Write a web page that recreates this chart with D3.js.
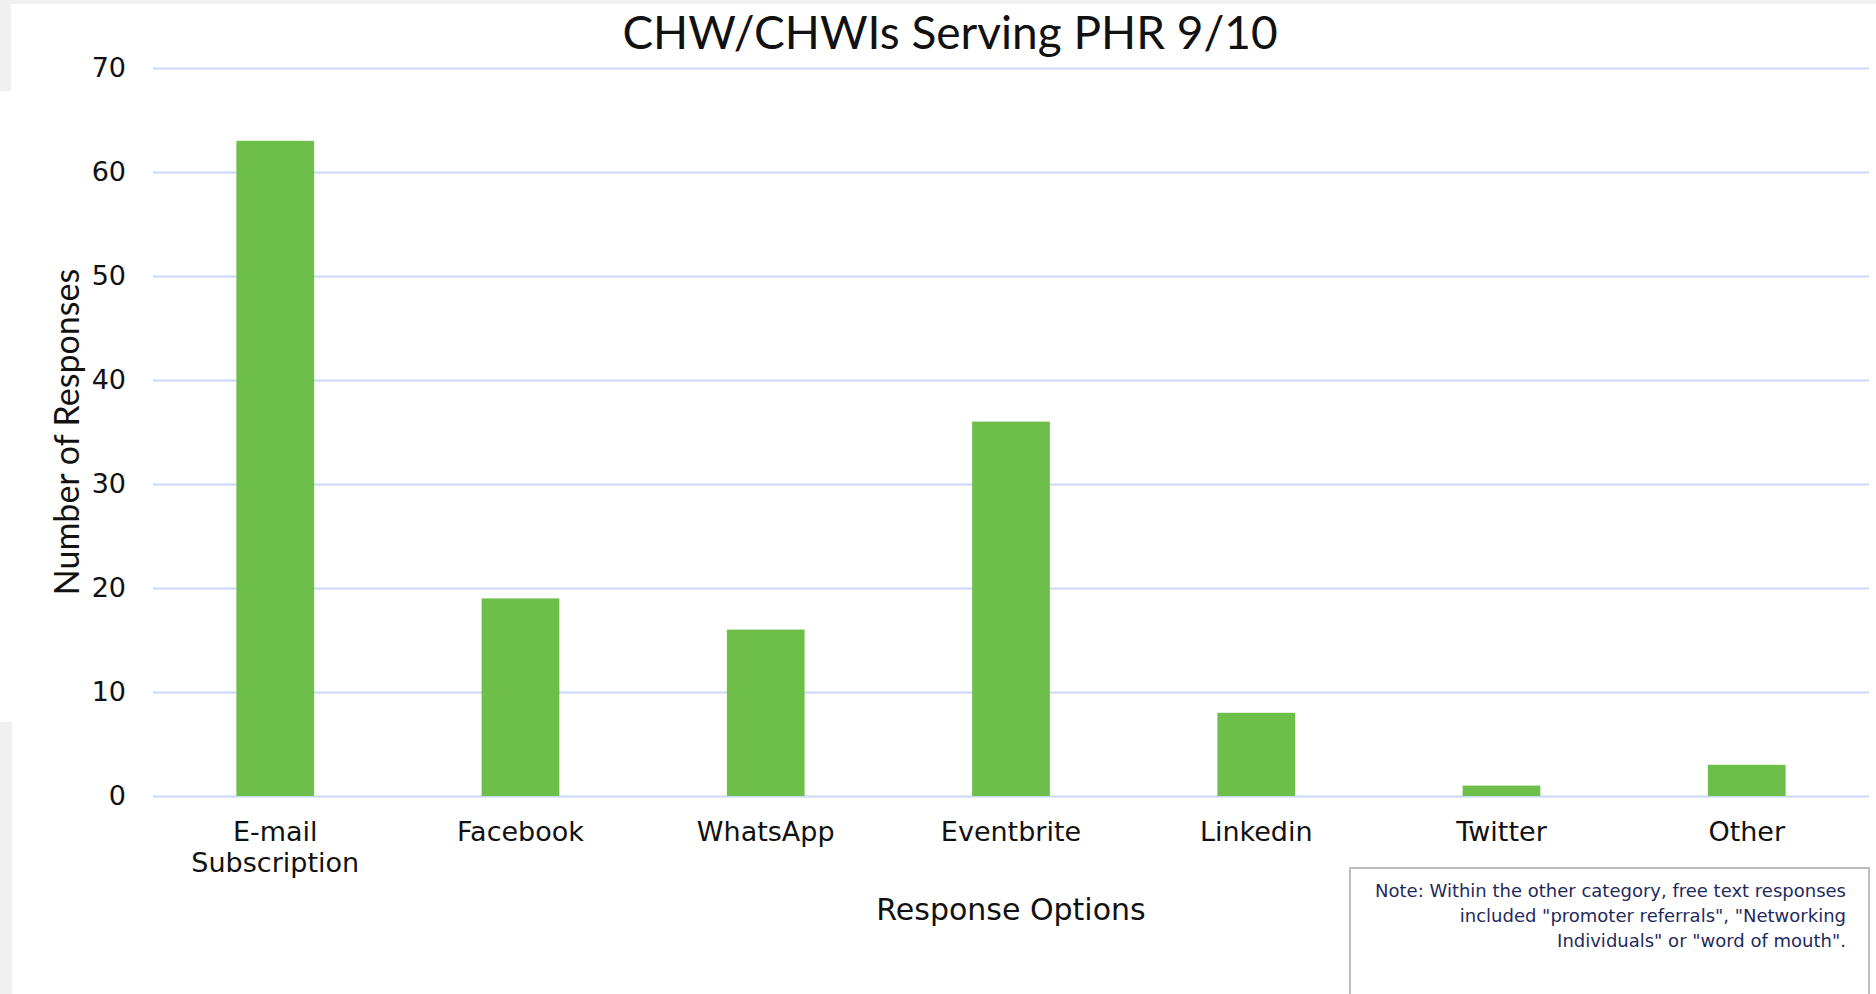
<!DOCTYPE html>
<html>
<head>
<meta charset="utf-8">
<script src="https://cdn.jsdelivr.net/npm/d3@7"></script>
<style>
  body { margin: 0; background: #fff; }
  svg { display: block; }
</style>
</head>
<body>
<script>
// bar chart of response options

// data
const categories = ["E-mail\nSubscription", "Facebook", "WhatsApp", "Eventbrite", "Linkedin", "Twitter", "Other"];
const responses = [63, 19, 16, 36, 8, 1, 3];
const yTicks = [0, 10, 20, 30, 40, 50, 60, 70];
const noteLines = [
    "Note: Within the other category, free text responses",
    "included \"promoter referrals\", \"Networking",
    "Individuals\" or \"word of mouth\"."
];

const width = 1876;
const height = 994;
const plotLeft = 153, plotRight = 1869, plotTop = 68, plotBottom = 796;

const svg = d3.select("body")
    .append("svg")
    .attr("width", width)
    .attr("height", height);

// grey page edges showing behind the chart
svg.append("rect").attr("x", 0).attr("y", 0).attr("width", width).attr("height", 4).attr("fill", "#f0f0f0");
svg.append("rect").attr("x", 0).attr("y", 0).attr("width", 11).attr("height", 91).attr("fill", "#f0f0f0");
svg.append("rect").attr("x", 0).attr("y", 722).attr("width", 12).attr("height", 272).attr("fill", "#f0f0f0");

const xScale = d3.scaleBand()
    .domain(categories)
    .range([plotLeft, plotRight])
    .paddingInner(0.683)
    .paddingOuter(0.34);

const yScale = d3.scaleLinear()
    .domain([0, 70])
    .range([plotBottom, plotTop]);

// y axis + gridlines
const yAxis = svg.append("g")
    .attr("transform", `translate(${plotLeft},0)`)
    .call(d3.axisLeft(yScale)
        .tickValues(yTicks)
        .tickSizeInner(-(plotRight - plotLeft))
        .tickSizeOuter(0)
        .tickPadding(27));
yAxis.select(".domain").remove();
yAxis.selectAll(".tick line")
    .attr("stroke", "#c8d8f8")
    .attr("stroke-width", 2);
yAxis.selectAll(".tick text")
    .attr("font-family", "'DejaVu Sans', Verdana, sans-serif")
    .attr("font-size", 27)
    .attr("fill", "#111");

// bars
svg.selectAll(".bar")
    .data(responses)
    .enter()
    .append("rect")
    .attr("class", "bar")
    .attr("x", (d, i) => xScale(categories[i]))
    .attr("y", d => yScale(d))
    .attr("width", xScale.bandwidth())
    .attr("height", d => yScale(0) - yScale(d))
    .attr("fill", "#6dbf4a");

// category labels (wrapped on \n)
const xLabels = svg.selectAll(".xlabel")
    .data(categories)
    .enter()
    .append("text")
    .attr("class", "xlabel")
    .attr("text-anchor", "middle")
    .attr("font-family", "'DejaVu Sans', Verdana, sans-serif")
    .attr("font-size", 27)
    .attr("fill", "#111");
xLabels.each(function(c) {
    const cx = xScale(c) + xScale.bandwidth() / 2;
    c.split("\n").forEach((line, j) => {
        d3.select(this).append("tspan")
            .attr("x", cx)
            .attr("y", 841 + j * 31)
            .text(line);
    });
});

// title
svg.append("text")
    .attr("x", 950)
    .attr("y", 49)
    .attr("text-anchor", "middle")
    .attr("font-family", "Lato, 'Open Sans', sans-serif")
    .attr("font-size", 46)
    .attr("fill", "#111")
    .text("CHW/CHWIs Serving PHR 9/10");

// axis titles
svg.append("text")
    .attr("x", 1011)
    .attr("y", 920)
    .attr("text-anchor", "middle")
    .attr("font-family", "'DejaVu Sans', Verdana, sans-serif")
    .attr("font-size", 30)
    .attr("fill", "#111")
    .text("Response Options");

svg.append("text")
    .attr("transform", "translate(79,432) rotate(-90)")
    .attr("text-anchor", "middle")
    .attr("font-family", "Lato, 'Open Sans', sans-serif")
    .attr("font-size", 34)
    .attr("fill", "#111")
    .text("Number of Responses");

// note box
svg.append("rect")
    .attr("x", 1350)
    .attr("y", 868)
    .attr("width", 519)
    .attr("height", 140)
    .attr("fill", "#fff")
    .attr("stroke", "#bdbdbd")
    .attr("stroke-width", 2);

svg.selectAll(".note")
    .data(noteLines)
    .enter()
    .append("text")
    .attr("class", "note")
    .attr("x", 1846)
    .attr("y", (d, i) => 897 + i * 25)
    .attr("text-anchor", "end")
    .attr("font-family", "'DejaVu Sans', Verdana, sans-serif")
    .attr("font-size", 18)
    .attr("fill", "#1f2a5c")
    .text(d => d);
</script>
</body>
</html>
